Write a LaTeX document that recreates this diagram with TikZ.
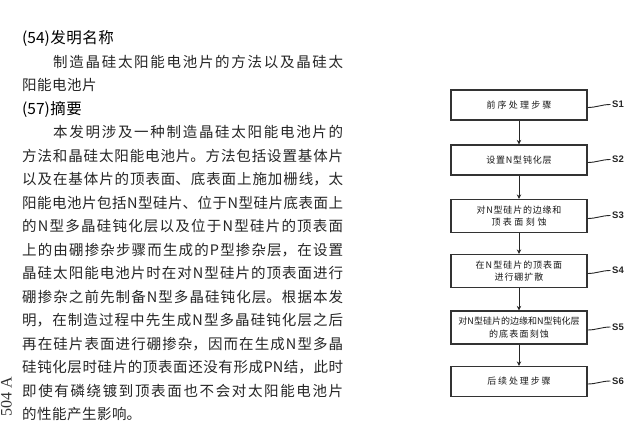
\documentclass[tikz,border=0pt]{standalone}
\usepackage{fontspec}
\usetikzlibrary{arrows.meta}
\newfontfamily\cjk{Noto Sans CJK SC}
\newfontfamily\serifl{Liberation Serif}
\newfontfamily\sansl{Liberation Sans}
\XeTeXlinebreaklocale "zh"
\newcommand\boxfont{\cjk\fontsize{9}{12.5}\selectfont}
\newcommand\lsp[1]{\XeTeXlinebreakskip #1pt\relax}
\begin{document}
\begin{tikzpicture}[x=1pt,y=-1pt,
  stepbox/.style={draw=black!80, line width=1.2pt, minimum width=136pt, text width=134pt, inner sep=1pt, align=center,
    font=\boxfont, text=black!90},
  single/.style={minimum height=30pt},
  double/.style={minimum height=33pt},
  slabel/.style={font=\sansl\bfseries\fontsize{9.5}{11}\selectfont, text=black!85, inner sep=0pt},
  flow/.style={-{Stealth[length=4.5pt,width=4.5pt]}, line width=1pt, draw=black!85},
  leader/.style={line width=0.9pt, draw=black!85},
]
\fill[white] (0,0) rectangle (633,422);
\useasboundingbox (0,0) rectangle (633,422);

% left text block
\node[anchor=base west, inner sep=0pt, text=black!85] (body) at (22,30.6) {%
\begin{minipage}[t]{321pt}%
\cjk\fontsize{14.5}{23.5}\selectfont
\XeTeXlinebreakskip 0.5pt plus 3pt\relax
\parindent=0pt \parskip=0pt \tolerance=9999 \hbadness=10000 \emergencystretch=20pt
{\color{black}\fontsize{15.5}{23.5}\selectfont(54)发明名称}\par
\hspace*{31pt}制造晶硅太阳能电池片的方法以及晶硅太\linebreak
阳能电池片\par
{\color{black}\fontsize{15.5}{23.5}\selectfont(57)摘要}\par
\hspace*{31pt}本发明涉及一种制造晶硅太阳能电池片的\linebreak
方法和晶硅太阳能电池片。方法包括设置基体片\linebreak
以及在基体片的顶表面、底表面上施加栅线，太\linebreak
阳能电池片包括N型硅片、位于N型硅片底表面上\linebreak
的N型多晶硅钝化层以及位于N型硅片的顶表面\linebreak
上的由硼掺杂步骤而生成的P型掺杂层，在设置\linebreak
晶硅太阳能电池片时在对N型硅片的顶表面进行\linebreak
硼掺杂之前先制备N型多晶硅钝化层。根据本发\linebreak
明，在制造过程中先生成N型多晶硅钝化层之后\linebreak
再在硅片表面进行硼掺杂，因而在生成N型多晶\linebreak
硅钝化层时硅片的顶表面还没有形成PN结，此时\linebreak
即使有磷绕镀到顶表面也不会对太阳能电池片\linebreak
的性能产生影响。\par
\end{minipage}};

\node[font=\serifl\fontsize{16}{16}\selectfont, rotate=90, anchor=east, inner sep=0pt, text=black!80] (code) at (6.5,377) {504 A};

% flowchart
\node[stepbox,single] (s1) at (519,105) {{\lsp{2.2}前序处理步骤}};
\node[stepbox,single] (s2) at (519,160) {{\lsp{0.8}设置N型钝化层}};
\node[stepbox,double] (s3) at (519,216) {{\lsp{0.8}对N型硅片的边缘和}\\{\lsp{2.5}顶表面刻蚀}};
\node[stepbox,double] (s4) at (519,271) {{\lsp{1}在N型硅片的顶表面}\\{\lsp{1}进行硼扩散}};
\node[stepbox,double] (s5) at (519,327.5) {{\lsp{0}对N型硅片的边缘和N型钝化层}\\{\lsp{1.2}的底表面刻蚀}};
\node[stepbox,single] (s6) at (519,381.5) {{\lsp{1.9}后续处理步骤}};

\draw[flow] (s1) -- (s2);
\draw[flow] (s2) -- (s3);
\draw[flow] (s3) -- (s4);
\draw[flow] (s4) -- (s5);
\draw[flow] (s5) -- (s6);

\foreach \i/\c in {1/105,2/160,3/216,4/271,5/327.5,6/381.5}{
  \node[slabel] (l\i) at (618,\c-0.5) {S\i};
  \draw[leader] ([yshift=-2.5pt]s\i.east) .. controls +(9,0) and +(-9,0) .. ([xshift=-1.5pt]l\i.west);
}
\end{tikzpicture}
\end{document}
